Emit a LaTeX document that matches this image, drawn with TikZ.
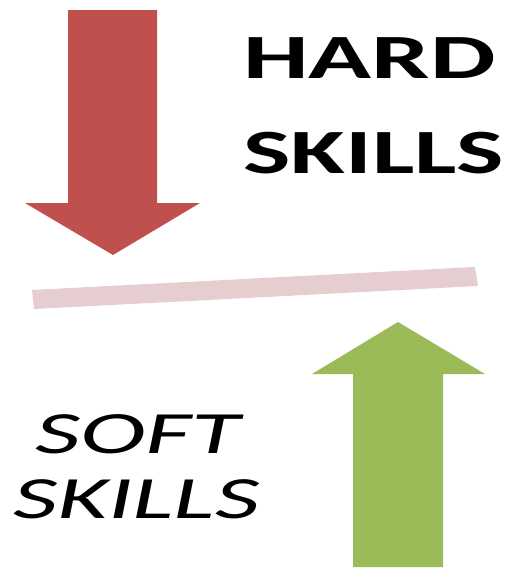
\documentclass[tikz,border=0pt]{standalone}
\usepackage{fontspec}
\setmainfont{Carlito}
\definecolor{hardred}{HTML}{C0504D}
\definecolor{softgreen}{HTML}{9BBB59}
\definecolor{barpink}{HTML}{E6CDCF}
\begin{document}
\begin{tikzpicture}[x=1pt,y=-1pt]

      \useasboundingbox (0,0) rectangle (510,568);

      % arrows and the dividing bar
      \fill[hardred] (68,10) -- (157,10) -- (157,203) -- (200,203)
        -- (113,255) -- (25,203) -- (68,203) -- cycle;
      \fill[softgreen] (353,567) -- (443,567) -- (443,374) -- (485,374)
        -- (398,322) -- (312,374) -- (353,374) -- cycle;
      \fill[barpink] (32,290) -- (475,267) -- (478,286) -- (34,309) -- cycle;

      \begin{scope}[every node/.style={inner sep=0pt,anchor=base west}]
        \node (hard)  at (243,78)  {\fontsize{63}{63}\selectfont\bfseries\scalebox{1.65}[1]{HARD}};
        \node (hskl)  at (243,173) {\fontsize{63}{63}\selectfont\bfseries\scalebox{1.59}[1]{SKILLS}};
        \node (soft)  at (35,453)  {\fontsize{60}{60}\selectfont\itshape\scalebox{1.66}[1]{SOFT}};
        \node (sskl)  at (13,518)  {\fontsize{60}{60}\selectfont\itshape\scalebox{1.63}[1]{SKILLS}};
      \end{scope}

    \end{tikzpicture}
\end{document}
